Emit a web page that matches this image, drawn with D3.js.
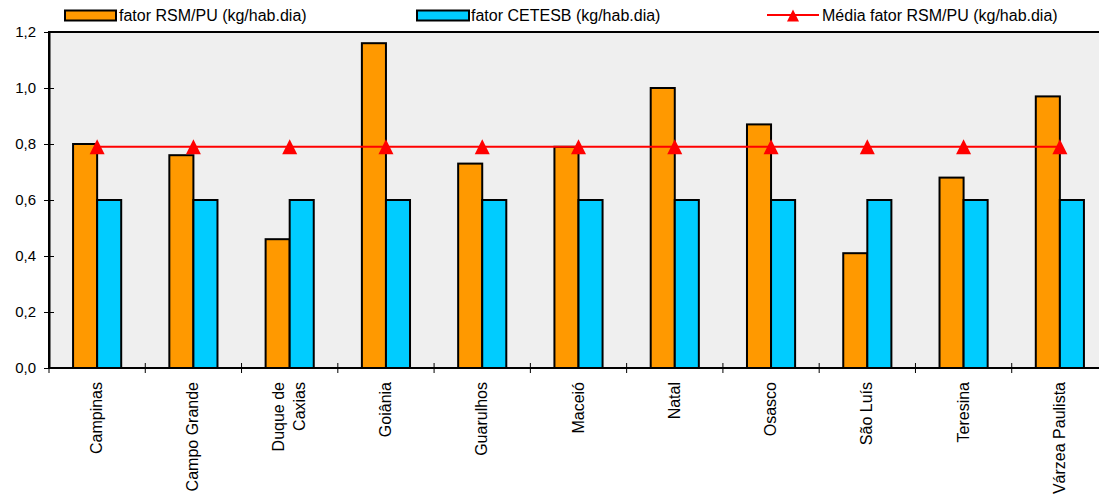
<!DOCTYPE html>
<html><head><meta charset="utf-8">
<script src="https://cdn.jsdelivr.net/npm/d3@7"></script>
<style>body{margin:0;background:#fff;}svg{display:block;font-family:Arial,"Liberation Sans",sans-serif;}</style>
</head><body>
<svg id="c" width="1099" height="497"></svg>
<script>
const categories = ["Campinas","Campo Grande","Duque de\nCaxias","Goiânia","Guarulhos","Maceió","Natal","Osasco","São Luís","Teresina","Várzea Paulista"];
const fatorRSM = [0.80,0.76,0.46,1.16,0.73,0.79,1.00,0.87,0.41,0.68,0.97];
const fatorCETESB = [0.60,0.60,0.60,0.60,0.60,0.60,0.60,0.60,0.60,0.60,0.60];
const mediaRSM = [0.79,0.79,0.79,0.79,0.79,0.79,0.79,0.79,0.79,0.79,0.79];
const yTicks = [0,0.2,0.4,0.6,0.8,1.0,1.2];
const seriesNames = ["fator RSM/PU (kg/hab.dia)","fator CETESB (kg/hab.dia)","Média fator RSM/PU (kg/hab.dia)"];

const svg = d3.select("#c");
const pL = 49, pR = 1108, pT = 32, pB = 368;
const x = d3.scaleBand().domain(categories).range([pL, pR]).paddingInner(0).paddingOuter(0);
const y = d3.scaleLinear().domain([0,1.2]).range([pB, pT]);
const xs = d3.scaleBand().domain([0,1]).range([0, x.bandwidth()]).paddingInner(0).paddingOuter(1);
const fmt = d => d3.format(".1f")(d).replace(".", ",");

// plot background
svg.append("rect").attr("x", pL).attr("y", pT).attr("width", pR-pL).attr("height", pB-pT)
  .attr("fill", "#efefef");

// bars
const g = svg.append("g");
categories.forEach((c,i) => {
  [fatorRSM[i], fatorCETESB[i]].forEach((v,k) => {
    g.append("rect")
      .attr("x", x(c) + xs(k))
      .attr("y", y(v))
      .attr("width", xs.bandwidth())
      .attr("height", y(0) - y(v))
      .attr("fill", k===0 ? "#ff9900" : "#00ccff")
      .attr("stroke", "#000").attr("stroke-width", 2);
  });
});

// border
svg.append("rect").attr("x", pL).attr("y", pT).attr("width", pR-pL).attr("height", pB-pT)
  .attr("fill", "none").attr("stroke", "#000").attr("stroke-width", 2);

// mean line
const cx = c => x(c) + x.bandwidth()/2;
svg.append("path")
  .datum(categories.map((c,i)=>[cx(c), y(mediaRSM[i])]))
  .attr("d", d3.line()).attr("fill","none").attr("stroke","#ff0000").attr("stroke-width",2);
const tri = "M0,-7.5L7.5,7.5L-7.5,7.5Z";
svg.selectAll(".tri").data(categories).join("path")
  .attr("d", tri).attr("fill","#ff0000")
  .attr("transform",(c,i)=>`translate(${cx(c)},${y(mediaRSM[i])})`);

// y axis
const yAxis = d3.axisLeft(y).tickValues(yTicks).tickFormat(fmt).tickSizeInner(5).tickSizeOuter(0).tickPadding(8);
const ga = svg.append("g").attr("transform",`translate(${pL},0)`).call(yAxis);
ga.select(".domain").attr("stroke","#000").attr("stroke-width",2);
ga.selectAll(".tick line").attr("x2",-5).attr("x1",5).attr("stroke","#000");
ga.selectAll("text").attr("font-size","15px").attr("fill","#000").attr("font-family","Arial, 'Liberation Sans', sans-serif");

// x axis
const xTickPos = d3.range(categories.length+1).map(i => pL + i*x.step());
svg.selectAll(".xt").data(xTickPos).join("line")
  .attr("x1",d=>d).attr("x2",d=>d).attr("y1",pB-5).attr("y2",pB+5).attr("stroke","#000");
svg.append("line").attr("x1",pL).attr("x2",pR).attr("y1",pB).attr("y2",pB).attr("stroke","#000").attr("stroke-width",2);

categories.forEach(c => {
  const lines = c.split("\n");
  const t = svg.append("text")
    .attr("transform", `translate(${cx(c)},${pB+14}) rotate(-90)`)
    .attr("text-anchor","end").attr("font-size","16px").attr("fill","#000");
  const n = lines.length;
  lines.forEach((l,j) => {
    t.append("tspan").attr("x",0).attr("y", (j-(n-1)/2)*21 + 5).text(l);
  });
});

// legend (white box overlaps top of chart)
svg.append("rect").attr("x",0).attr("y",0).attr("width",1099).attr("height",27).attr("fill","#fff");
const lg = svg.append("g").attr("font-size","16px");
lg.append("rect").attr("x",65).attr("y",10.5).attr("width",51).attr("height",10).attr("fill","#ff9900").attr("stroke","#000").attr("stroke-width",2);
lg.append("text").attr("x",119).attr("y",21).text(seriesNames[0]);
lg.append("rect").attr("x",417).attr("y",10.5).attr("width",52).attr("height",10).attr("fill","#00ccff").attr("stroke","#000").attr("stroke-width",2);
lg.append("text").attr("x",471).attr("y",21).text(seriesNames[1]);
lg.append("line").attr("x1",767).attr("x2",819).attr("y1",15).attr("y2",15).attr("stroke","#ff0000").attr("stroke-width",2);
lg.append("path").attr("d",tri).attr("fill","#ff0000").attr("transform","translate(793,15.5) scale(0.8)");
lg.append("text").attr("x",822).attr("y",21).text(seriesNames[2]);
</script>
</body></html>
